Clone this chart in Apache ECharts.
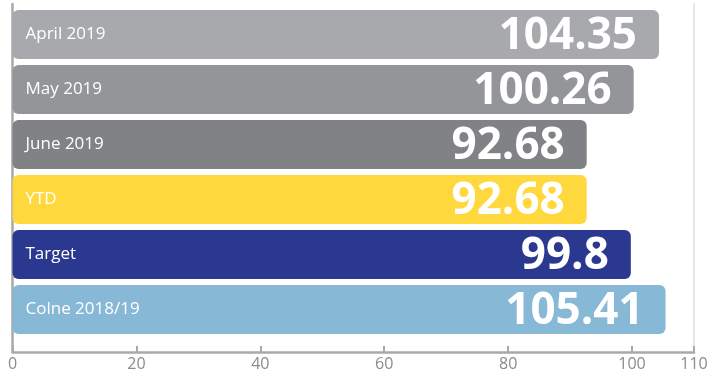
<!DOCTYPE html>
<html>
<head>
<meta charset="utf-8">
<style>
  html, body { margin: 0; padding: 0; background: #ffffff; }
  #chart { width: 716px; height: 376px; }
</style>
<script src="https://cdn.jsdelivr.net/npm/echarts@6/dist/echarts.min.js"></script>
</head>
<body>
<div id="chart"></div>
<script>
// Index scores by period
const categories = ['April 2019', 'May 2019', 'June 2019', 'YTD', 'Target', 'Colne 2018/19'];
const values = [104.35, 100.26, 92.68, 92.68, 99.8, 105.41];
const barColors = ['#a7a9ac', '#939598', '#808285', '#ffd83d', '#2b388f', '#87b8d6'];
const xTicks = { min: 0, max: 110, interval: 20 };

const FONT = '"Open Sans", "Noto Sans", sans-serif';
const chart = echarts.init(document.getElementById('chart'), null, { renderer: 'canvas' });

chart.setOption({
  animation: false,
  grid: [
    // bars
    { left: 12.5, right: 22, top: 7, height: 330 },
    // frame: axes drawn full height
    { left: 12.5, right: 22, top: 4, bottom: 24 }
  ],
  xAxis: [
    { gridIndex: 0, type: 'value', min: xTicks.min, max: xTicks.max, show: false },
    {
      gridIndex: 1, type: 'value', min: xTicks.min, max: xTicks.max, interval: xTicks.interval,
      axisLine: { show: true, lineStyle: { color: '#a7a9ac', width: 2.5 } },
      axisTick: { show: true, inside: true, length: 6, lineStyle: { color: '#a7a9ac', width: 2 } },
      axisLabel: { color: '#8a8b8e', fontSize: 16, fontFamily: FONT, margin: 4 },
      splitLine: { show: false }
    }
  ],
  yAxis: [
    {
      gridIndex: 0, type: 'category', inverse: true, data: categories, z: 10,
      axisLine: { show: false }, axisTick: { show: false },
      axisLabel: { inside: true, margin: 13, color: '#ffffff', fontSize: 17, fontFamily: FONT }
    },
    {
      gridIndex: 1, type: 'value', position: 'left', min: 0, max: 1,
      axisLine: { show: true, lineStyle: { color: '#a7a9ac', width: 2.5 } },
      axisTick: { show: false }, axisLabel: { show: false }, splitLine: { show: false }
    },
    {
      gridIndex: 1, type: 'value', position: 'right', min: 0, max: 1,
      axisLine: { show: true, lineStyle: { color: '#e6e6e7', width: 2 } },
      axisTick: { show: false }, axisLabel: { show: false }, splitLine: { show: false }
    }
  ],
  series: [{
    type: 'bar',
    xAxisIndex: 0,
    yAxisIndex: 0,
    barWidth: 49,
    data: values.map((v, i) => ({
      value: v,
      itemStyle: { color: barColors[i], borderRadius: 6 }
    })),
    label: {
      show: true,
      position: 'insideRight',
      distance: 22,
      color: '#ffffff',
      fontSize: 44,
      fontWeight: 'bold',
      fontFamily: FONT,
      offset: [0, 1.5],
      formatter: p => String(p.value)
    }
  }]
});
</script>
</body>
</html>
